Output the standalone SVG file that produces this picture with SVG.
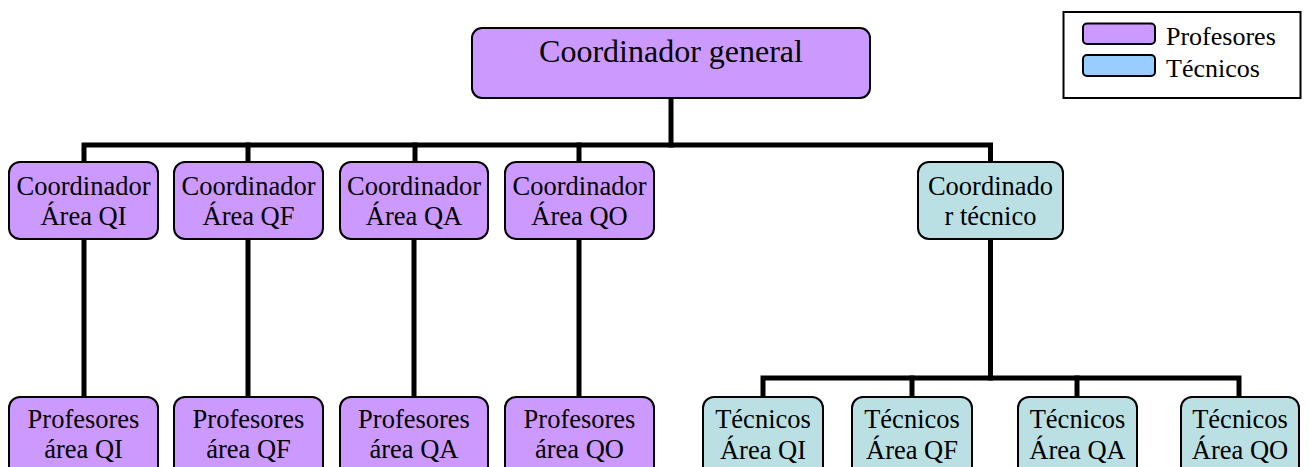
<svg xmlns="http://www.w3.org/2000/svg" width="1309" height="467" viewBox="0 0 1309 467">
  <style>
    .prof { fill: #CC99FF; stroke: #000; stroke-width: 2; }
    .tec { fill: #BBE0E3; stroke: #000; stroke-width: 2; }
    text { font-family: "Liberation Serif", "Tinos", "Times New Roman", "DejaVu Serif", serif; fill: #000; }
    .lbl { font-size: 26.5px; text-anchor: middle; }
    .big { font-size: 32px; }
    .leg { font-size: 26px; }
    .conn { fill: none; stroke: #000; stroke-width: 5; stroke-linejoin: miter; stroke-linecap: square; }
  </style>
  <rect width="1309" height="467" fill="#fff"/>

  <!-- connectors -->
  <g id="connectors">
    <path class="conn" d="M671 99 V145"/>
    <path class="conn" d="M84 161 V145 H990.5 V161"/>
    <path class="conn" d="M248 145 V161"/>
    <path class="conn" d="M415 145 V161"/>
    <path class="conn" d="M579 145 V161"/>
    <path class="conn" d="M84 240 V395"/>
    <path class="conn" d="M248 240 V395"/>
    <path class="conn" d="M414 240 V395"/>
    <path class="conn" d="M579 240 V395"/>
    <path class="conn" d="M990.5 240 V378"/>
    <path class="conn" d="M763 395 V378 H1239 V395"/>
    <path class="conn" d="M912 378 V395"/>
    <path class="conn" d="M1077 378 V395"/>
  </g>

  <!-- top -->
  <g id="coord-general">
    <rect class="prof" x="472" y="28" width="398" height="70" rx="10"/>
    <text class="lbl big" x="671" y="62" font-family="Liberation Serif, serif">Coordinador general</text>
  </g>

  <!-- second row -->
  <g id="coord-qi">
    <rect class="prof" x="9" y="162" width="149" height="77" rx="11"/>
    <text class="lbl" x="83.5" y="195">Coordinador</text>
    <text class="lbl" x="83.5" y="225">Área QI</text>
  </g>
  <g id="coord-qf">
    <rect class="prof" x="174" y="162" width="149" height="77" rx="11"/>
    <text class="lbl" x="248.5" y="195">Coordinador</text>
    <text class="lbl" x="248.5" y="225">Área QF</text>
  </g>
  <g id="coord-qa">
    <rect class="prof" x="340" y="162" width="148" height="77" rx="11"/>
    <text class="lbl" x="414" y="195">Coordinador</text>
    <text class="lbl" x="414" y="225">Área QA</text>
  </g>
  <g id="coord-qo">
    <rect class="prof" x="505" y="162" width="149" height="77" rx="11"/>
    <text class="lbl" x="579.5" y="195">Coordinador</text>
    <text class="lbl" x="579.5" y="225">Área QO</text>
  </g>
  <g id="coord-tecnico">
    <rect class="tec" x="918" y="162" width="145" height="77" rx="11"/>
    <text class="lbl" x="990.5" y="195">Coordinado</text>
    <text class="lbl" x="990.5" y="225">r técnico</text>
  </g>

  <!-- bottom row -->
  <g id="prof-qi">
    <rect class="prof" x="9" y="397" width="149" height="90" rx="11"/>
    <text class="lbl" x="83.5" y="428">Profesores</text>
    <text class="lbl" x="83.5" y="458">área QI</text>
  </g>
  <g id="prof-qf">
    <rect class="prof" x="174" y="397" width="149" height="90" rx="11"/>
    <text class="lbl" x="248.5" y="428">Profesores</text>
    <text class="lbl" x="248.5" y="458">área QF</text>
  </g>
  <g id="prof-qa">
    <rect class="prof" x="340" y="397" width="148" height="90" rx="11"/>
    <text class="lbl" x="414" y="428">Profesores</text>
    <text class="lbl" x="414" y="458">área QA</text>
  </g>
  <g id="prof-qo">
    <rect class="prof" x="505" y="397" width="149" height="90" rx="11"/>
    <text class="lbl" x="579.5" y="428">Profesores</text>
    <text class="lbl" x="579.5" y="458">área QO</text>
  </g>
  <g id="tec-qi">
    <rect class="tec" x="703" y="397" width="120" height="90" rx="11"/>
    <text class="lbl" x="763" y="428">Técnicos</text>
    <text class="lbl" x="763" y="459">Área QI</text>
  </g>
  <g id="tec-qf">
    <rect class="tec" x="852" y="397" width="120" height="90" rx="11"/>
    <text class="lbl" x="912" y="428">Técnicos</text>
    <text class="lbl" x="912" y="459">Área QF</text>
  </g>
  <g id="tec-qa">
    <rect class="tec" x="1018" y="397" width="119" height="90" rx="11"/>
    <text class="lbl" x="1077.5" y="428">Técnicos</text>
    <text class="lbl" x="1077.5" y="459">Área QA</text>
  </g>
  <g id="tec-qo">
    <rect class="tec" x="1181" y="397" width="118" height="90" rx="11"/>
    <text class="lbl" x="1240" y="428">Técnicos</text>
    <text class="lbl" x="1240" y="459">Área QO</text>
  </g>

  <!-- legend -->
  <g id="legend">
    <rect x="1063.5" y="12" width="237" height="86" fill="#fff" stroke="#000" stroke-width="2"/>
    <rect x="1083" y="23.5" width="72" height="20.5" rx="4" fill="#CC99FF" stroke="#000" stroke-width="2"/>
    <rect x="1083" y="55" width="72" height="21" rx="4" fill="#99CCFF" stroke="#000" stroke-width="2"/>
    <text class="leg" x="1166" y="45">Profesores</text>
    <text class="leg" x="1166" y="77">Técnicos</text>
  </g>
</svg>
